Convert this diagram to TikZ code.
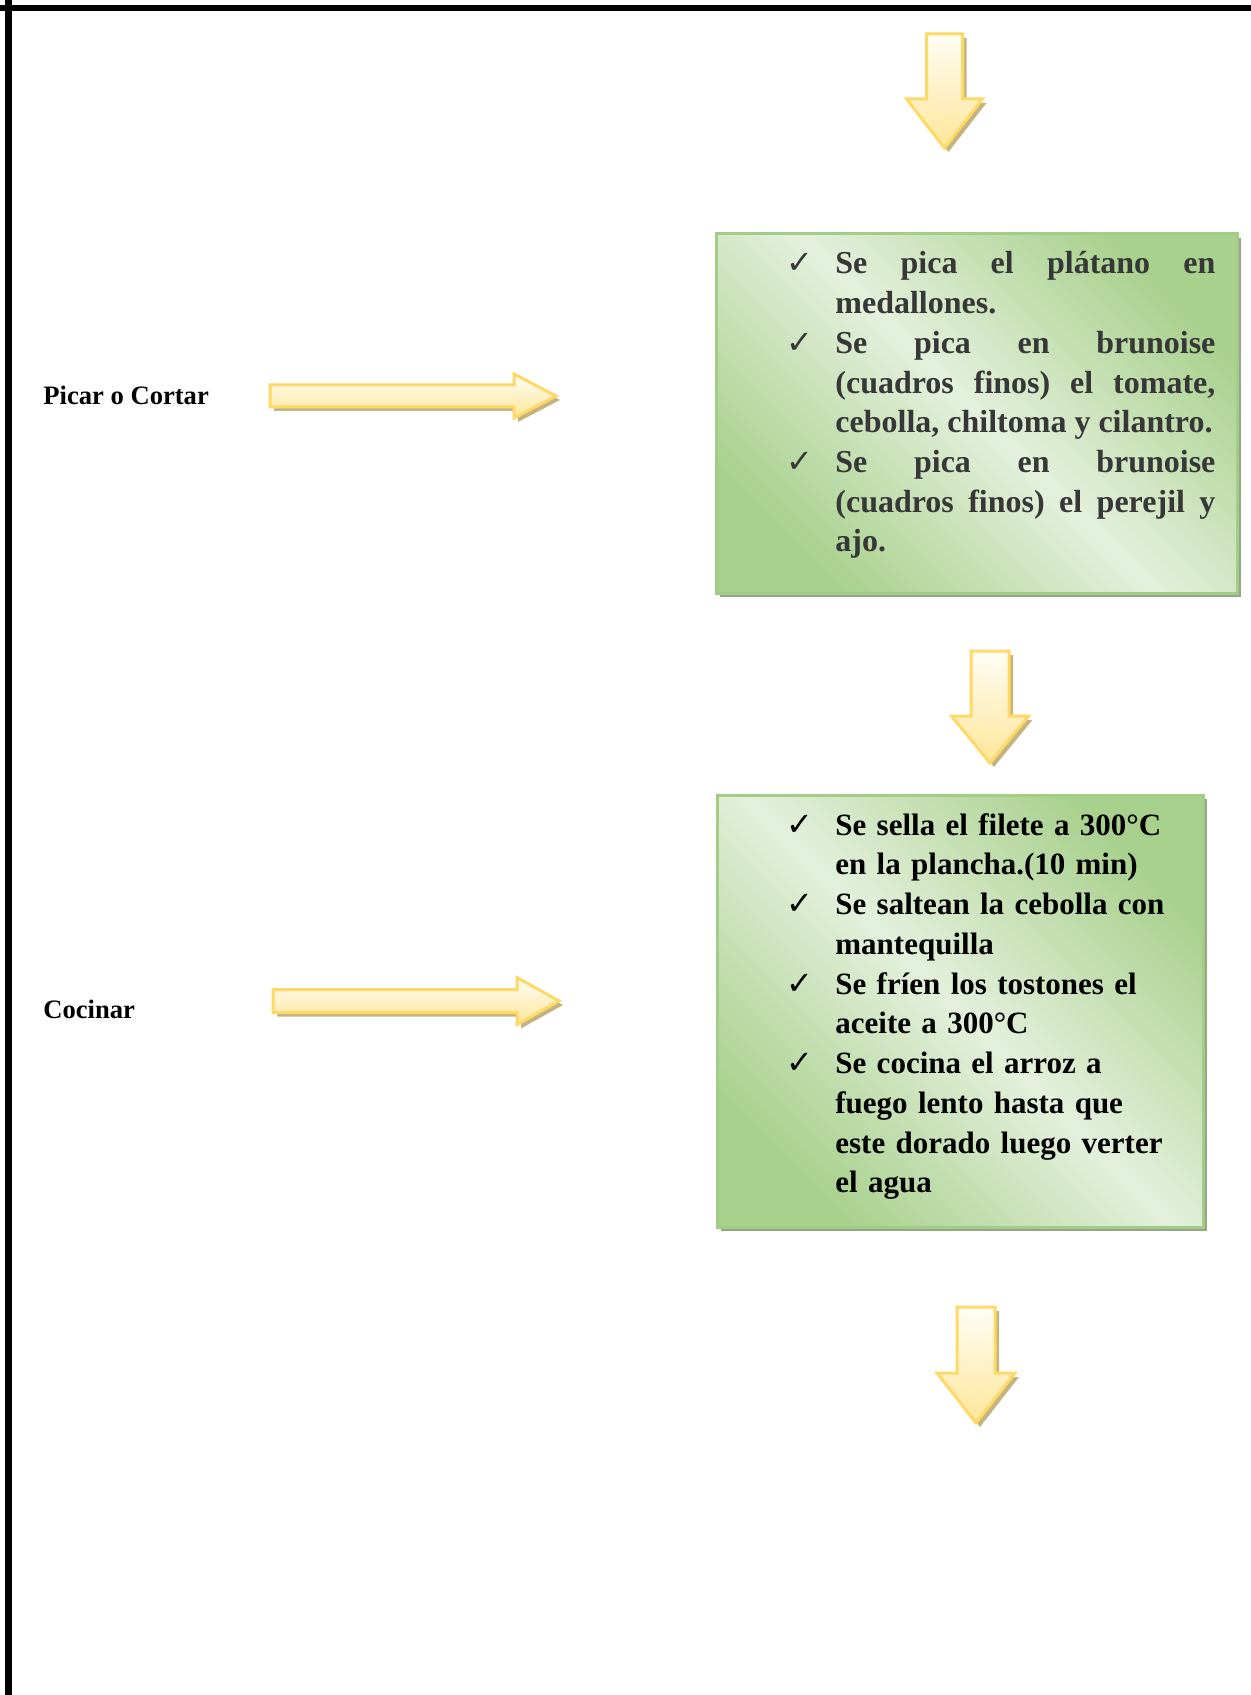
\documentclass[tikz,border=0pt]{standalone}
\usepackage{fontspec}
\setmainfont{Liberation Serif}
\newfontfamily\checkfont{DejaVu Sans}
\usetikzlibrary{shadows}
\definecolor{gdark}{RGB}{169,209,142}
\definecolor{glight}{RGB}{228,240,220}
\definecolor{gedge}{RGB}{162,205,134}
\definecolor{boxshade}{RGB}{150,165,135}
\definecolor{arredge}{RGB}{255,217,102}
\definecolor{arrlight}{RGB}{255,253,245}
\definecolor{arryel}{RGB}{255,230,153}
\definecolor{arrshade}{RGB}{196,180,130}
\definecolor{txtgray}{RGB}{55,55,55}
\tikzset{
  greenbox/.style={rectangle, draw=gedge, line width=1.5pt,
    left color=gdark, right color=gdark, middle color=glight, shading angle=135,
    drop shadow={shadow xshift=2.2pt, shadow yshift=-2.2pt, fill=boxshade, opacity=1},
    inner sep=0pt},
  boxtext/.style={anchor=base west, inner sep=0pt},
  lbl/.style={anchor=base west, inner sep=0pt, font=\bfseries\fontsize{13.3}{16}\selectfont},
  arrbody/.style={draw=arredge, line width=1.5pt, line join=miter},
  arrshadow/.style={fill=arrshade},
}
\newcommand\tick{\leavevmode\llap{{\checkfont\fontsize{16}{16}\selectfont ✓}\hspace{11pt}}}
% cx, ytop, yhead, ytip, shaft half, head half
\newcommand\DownArr[6]{%
  \fill[arrshadow, shift={(4,4)}] ({#1-#5},#2) -- ({#1+#5},#2) -- ({#1+#5},#3) -- ({#1+#6},#3) -- (#1,#4) -- ({#1-#6},#3) -- ({#1-#5},#3) -- cycle;
  \path[arrbody, top color=arrlight, bottom color=arryel] ({#1-#5},#2) -- ({#1+#5},#2) -- ({#1+#5},#3) -- ({#1+#6},#3) -- (#1,#4) -- ({#1-#6},#3) -- ({#1-#5},#3) -- cycle;}
% cy, xtail, xhead, xtip, shaft half, head half
\newcommand\RightArr[6]{%
  \fill[arrshadow, shift={(4,4)}] (#2,{#1-#5}) -- (#3,{#1-#5}) -- (#3,{#1-#6}) -- (#4,#1) -- (#3,{#1+#6}) -- (#3,{#1+#5}) -- (#2,{#1+#5}) -- cycle;
  \path[arrbody, top color=arrlight, bottom color=arryel] (#2,{#1-#5}) -- (#3,{#1-#5}) -- (#3,{#1-#6}) -- (#4,#1) -- (#3,{#1+#6}) -- (#3,{#1+#5}) -- (#2,{#1+#5}) -- cycle;}
\begin{document}
\begin{tikzpicture}[x=0.5pt, y=-0.5pt]
\useasboundingbox (0,0) rectangle (1251,1695);
% page border
\draw[line width=3pt] (0,8) -- (1251,8);
\draw[line width=3.5pt] (8,0) -- (8,1695);

% arrows
\DownArr{944.5}{34}{99}{148}{18}{38}
\DownArr{990}{651}{716}{763}{19}{38.5}
\DownArr{976}{1307}{1373}{1423}{19}{39}
\RightArr{396}{270}{514}{556}{11}{22}
\RightArr{1001}{273}{517}{559}{11.5}{23.5}

% labels
\node[lbl] (picar) at (43,405) {Picar o Cortar};
\node[lbl] (cocinar) at (43,1018) {Cocinar};

% boxes
\node[greenbox, minimum width=260.5pt, minimum height=179.5pt] (box1) at (976.5,413.5) {};
\node[greenbox, minimum width=243pt, minimum height=216pt] (box2) at (960,1011) {};

\node[boxtext, text width=190pt, align=justify, text=txtgray,
      font=\bfseries\fontsize{16}{19.85}\selectfont] (t1) at (835,274) {%
\tick Se pica el plátano en\linebreak medallones.\par
\tick Se pica en brunoise\linebreak (cuadros finos) el tomate,\linebreak cebolla, chiltoma y cilantro.\par
\tick Se pica en brunoise\linebreak (cuadros finos) el perejil y\linebreak ajo.};

\node[boxtext, text width=172pt, align=left,
      font=\bfseries\fontsize{15.5}{19.88}\selectfont] (t2) at (835,835) {%
\tick Se sella el filete a 300°C\\ en la plancha.(10 min)\par
\tick Se saltean la cebolla con\\ mantequilla\par
\tick Se fríen los tostones el\\ aceite a 300°C\par
\tick Se cocina el arroz a\\ fuego lento hasta que\\ este dorado luego verter\\ el agua};
\end{tikzpicture}
\end{document}
